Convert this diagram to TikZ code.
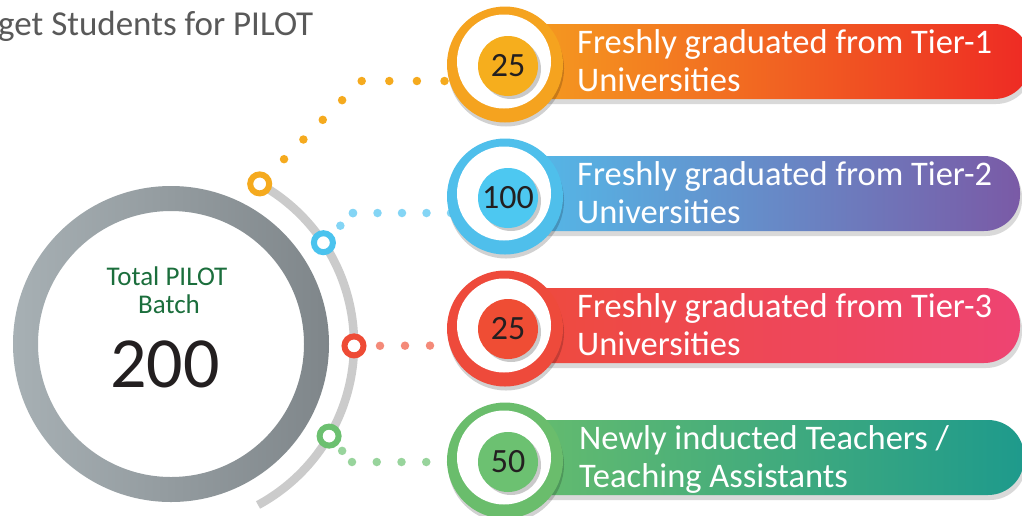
\documentclass[tikz,border=0pt]{standalone}
\usepackage{fontspec}
\setmainfont{Carlito}
\usetikzlibrary{shadows}
\definecolor{ring1}{HTML}{F5A31F}\definecolor{num1}{HTML}{F6AE1D}\definecolor{p1L}{HTML}{F5A01F}\definecolor{p1R}{HTML}{EE2A24}
\definecolor{ring2}{HTML}{4FBFEB}\definecolor{num2}{HTML}{4DC8F1}\definecolor{p2L}{HTML}{52BDEB}\definecolor{p2R}{HTML}{7A5AA6}
\definecolor{ring3}{HTML}{EE4A3B}\definecolor{num3}{HTML}{EF4D34}\definecolor{p3L}{HTML}{EE4B3B}\definecolor{p3R}{HTML}{EE4472}
\definecolor{ring4}{HTML}{6ABD6C}\definecolor{num4}{HTML}{6CC171}\definecolor{p4L}{HTML}{68BD6D}\definecolor{p4R}{HTML}{1E9A8C}
\definecolor{dot1}{HTML}{F5AA1E}\definecolor{dot2}{HTML}{84D5F5}\definecolor{dot3}{HTML}{F48A79}\definecolor{dot4}{HTML}{98D49C}
\definecolor{circ1}{HTML}{F5AA1E}\definecolor{circ2}{HTML}{4BC3EE}\definecolor{circ3}{HTML}{EE4B35}\definecolor{circ4}{HTML}{6CC070}
\definecolor{arcgray}{HTML}{CBCBCB}\definecolor{bigL}{HTML}{A7B0B4}\definecolor{bigR}{HTML}{7F868A}
\definecolor{titlegray}{HTML}{595959}\definecolor{totgreen}{HTML}{1B6E3C}\definecolor{numtext}{HTML}{231F20}
\begin{document}
\begin{tikzpicture}[x=1pt,y=-1pt,
  smallc/.style={circle, fill=white, line width=6pt, minimum size=19pt, inner sep=0pt},
  dotline/.style={line width=8.5pt, line cap=round},
  ringdisc/.style={circle, minimum size=116pt, inner sep=0pt, drop shadow={shadow xshift=1pt, shadow yshift=-4pt, opacity=0.18, fill=black}},
  whitedisc/.style={circle, fill=white, minimum size=94pt, inner sep=0pt},
  numdisc/.style={circle, minimum size=60pt, inner sep=0pt, font=\fontsize{34}{34}\selectfont, text=numtext, drop shadow={shadow xshift=3pt, shadow yshift=-3pt, opacity=0.35, fill=black!60}},
  bartext/.style={anchor=base west, text=white, font=\fontsize{34.5}{34.5}\selectfont, inner sep=0pt},
  pill/.style={rounded corners=36pt, drop shadow={shadow xshift=2pt, shadow yshift=-5pt, opacity=0.15, fill=black}}]
\useasboundingbox (0,0) rectangle (1022,515);
\fill[white] (0,0) rectangle (1022,515);
% title
\node[anchor=base west, text=titlegray, font=\fontsize{35}{35}\selectfont, inner sep=0pt] (title) at (-2,35) {get Students for PILOT};
% big ring
\shade[even odd rule, left color=bigL, right color=bigR] (171,344) circle[radius=158] circle[radius=133];
\node[anchor=base, text=totgreen, font=\fontsize{27}{27}\selectfont, inner sep=0pt] (tp) at (167,285) {Total PILOT};
\node[anchor=base, text=totgreen, font=\fontsize{27}{27}\selectfont, inner sep=0pt] (tb) at (169,313) {Batch};
\node[anchor=base, text=numtext, font=\fontsize{72}{72}\selectfont, inner sep=0pt] (tn) at (165,387) {200};
% gray arc
\draw[line width=8.5pt, arcgray] (171,344) ++(-61:183) arc[start angle=-61, end angle=61.6, radius=183];
% coordinates for connectors
\coordinate (k1) at (361,81);  \coordinate (e1) at (446,81);
\coordinate (k2) at (353,213); \coordinate (e2) at (451,213);
\coordinate (e3) at (452,345.5);
\coordinate (k4) at (352,462); \coordinate (e4) at (451,462);
% small circles
\node[smallc, draw=circ1] (c1) at (259.7,183.9) {};
\node[smallc, draw=circ2] (c2) at (323.4,242.7) {};
\node[smallc, draw=circ3] (c3) at (354,345.9) {};
\node[smallc, draw=circ4] (c4) at (329.1,436.1) {};
% dotted connectors
\draw[dotline, dot1, dash pattern=on 0pt off 27.6pt, shorten <=34.7pt] (c1.center) -- (k1) -- (e1);
\draw[dotline, dot2, dash pattern=on 0pt off 17.8pt, shorten <=24pt] (c2.center) -- (k2);
\draw[dotline, dot2, dash pattern=on 0pt off 24.5pt] (k2) -- (e2);
\draw[dotline, dot3, dash pattern=on 0pt off 25pt, shorten <=26pt] (c3.center) -- (e3);
\draw[dotline, dot4, dash pattern=on 0pt off 14.9pt, shorten <=19.7pt] (c4.center) -- (k4);
\draw[dotline, dot4, dash pattern=on 0pt off 24.75pt] (k4) -- (e4);
% bar 1
\shade[pill, left color=p1L, right color=p1R] (505,24) rectangle (1030,99);
\node[ringdisc, fill=ring1] (r1) at (505,64.5) {};
\node[whitedisc] (w1) at (504,61.5) {};
\node[numdisc, fill=num1] (n1) at (508,66) {25};
\node[bartext] (t1a) at (577,53) {Freshly graduated from Tier-1};
\node[bartext] (t1b) at (577,91.5) {Universities};
% bar 2
\shade[pill, left color=p2L, right color=p2R] (505,156) rectangle (1020,231);
\node[ringdisc, fill=ring2] (r2) at (505,196.5) {};
\node[whitedisc] (w2) at (504,193.5) {};
\node[numdisc, fill=num2] (n2) at (508,198) {100};
\node[bartext] (t2a) at (577,185) {Freshly graduated from Tier-2};
\node[bartext] (t2b) at (577,223.5) {Universities};
% bar 3
\shade[pill, left color=p3L, right color=p3R] (505,288) rectangle (1020,363);
\node[ringdisc, fill=ring3] (r3) at (505,328.5) {};
\node[whitedisc] (w3) at (504,325.5) {};
\node[numdisc, fill=num3] (n3) at (508,329) {25};
\node[bartext] (t3a) at (577,317) {Freshly graduated from Tier-3};
\node[bartext] (t3b) at (577,355.5) {Universities};
% bar 4
\shade[pill, left color=p4L, right color=p4R] (505,420) rectangle (1024,495);
\node[ringdisc, fill=ring4] (r4) at (505,460.5) {};
\node[whitedisc] (w4) at (504,457.5) {};
\node[numdisc, fill=num4] (n4) at (508,462) {50};
\node[bartext] (t4a) at (579,449) {Newly inducted Teachers /};
\node[bartext] (t4b) at (579,487.5) {Teaching Assistants};
\end{tikzpicture}
\end{document}
